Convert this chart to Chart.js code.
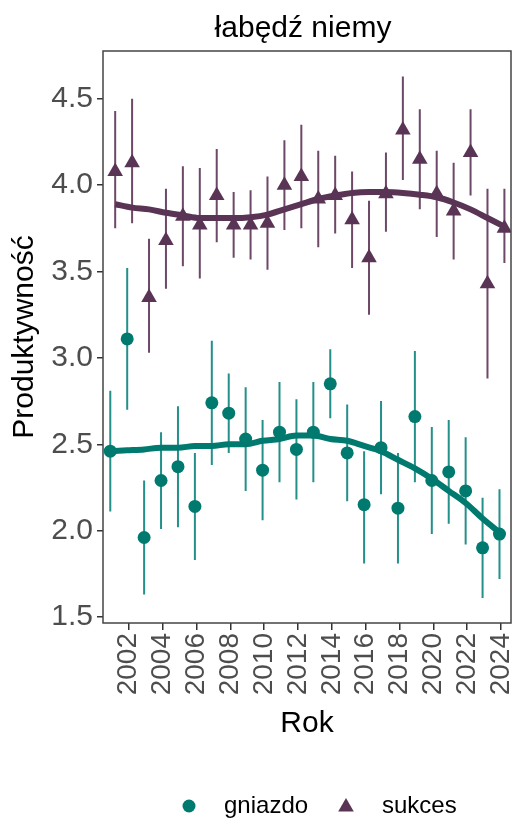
<!DOCTYPE html>
<html lang="pl">

<head>
    <meta charset="UTF-8">
    <title>łabędź niemy</title>
    <script src="https://cdn.jsdelivr.net/npm/chart.js"></script>
    <style>
        html, body { margin: 0; padding: 0; background: #fff; }
        canvas { display: block; }
    </style>
</head>

<body>
    <canvas id="chart" width="527" height="818"></canvas>

    <script>
        // data
        const years = [2001, 2002, 2003, 2004, 2005, 2006, 2007, 2008, 2009, 2010, 2011, 2012,
            2013, 2014, 2015, 2016, 2017, 2018, 2019, 2020, 2021, 2022, 2023, 2024];

        const gniazdo = [2.46, 3.11, 1.96, 2.29, 2.37, 2.14, 2.74, 2.68, 2.53, 2.35, 2.57, 2.47,
            2.57, 2.85, 2.45, 2.15, 2.48, 2.13, 2.66, 2.29, 2.34, 2.23, 1.90, 1.98];
        const gniazdoLo = [2.11, 2.70, 1.63, 2.01, 2.02, 1.83, 2.38, 2.45, 2.23, 2.06, 2.28, 2.18,
            2.28, 2.65, 2.17, 1.81, 2.21, 1.81, 2.28, 1.98, 2.04, 1.92, 1.61, 1.72];
        const gniazdoHi = [2.81, 3.52, 2.29, 2.57, 2.72, 2.45, 3.10, 2.91, 2.83, 2.64, 2.86, 2.76,
            2.86, 3.05, 2.73, 2.46, 2.75, 2.45, 3.04, 2.60, 2.64, 2.54, 2.19, 2.24];
        const gniazdoTrend = [2.46, 2.465, 2.47, 2.48, 2.48, 2.49, 2.49, 2.50, 2.50, 2.52, 2.53, 2.55,
            2.55, 2.53, 2.52, 2.49, 2.46, 2.41, 2.36, 2.30, 2.23, 2.16, 2.07, 1.99];

        const sukces = [4.08, 4.13, 3.35, 3.68, 3.82, 3.77, 3.94, 3.77, 3.77, 3.78, 4.00, 4.05,
            3.92, 3.94, 3.80, 3.58, 3.95, 4.32, 4.15, 3.95, 3.85, 4.19, 3.43, 3.75];
        const sukcesLo = [3.75, 3.78, 3.03, 3.40, 3.53, 3.46, 3.67, 3.58, 3.57, 3.51, 3.74, 3.75,
            3.64, 3.72, 3.52, 3.25, 3.73, 4.03, 3.86, 3.70, 3.57, 3.94, 2.88, 3.55];
        const sukcesHi = [4.43, 4.50, 3.69, 3.98, 4.11, 4.10, 4.21, 3.96, 3.97, 4.05, 4.26, 4.35,
            4.20, 4.17, 4.08, 3.91, 4.19, 4.63, 4.44, 4.20, 4.13, 4.44, 3.98, 3.98];
        const sukcesTrend = [3.89, 3.87, 3.86, 3.84, 3.825, 3.81, 3.81, 3.81, 3.815, 3.83, 3.86, 3.89,
            3.92, 3.94, 3.955, 3.96, 3.96, 3.955, 3.945, 3.93, 3.90, 3.86, 3.81, 3.76];

        const xTicks = [2002, 2004, 2006, 2008, 2010, 2012, 2014, 2016, 2018, 2020, 2022, 2024];
        const yTicks = [1.5, 2.0, 2.5, 3.0, 3.5, 4.0, 4.5];

        const TEAL = '#00796F';
        const TEAL_BAR = '#23908A';
        const PLUM = '#5A3455';
        const PLUM_BAR = '#6D4867';
        const FONT = "'Liberation Sans', Arial, sans-serif";

        // small dodge between the two series
        const DX_G = -0.09;
        const DX_S = 0.2;

        function pts(ys, dx) {
            return years.map((x, i) => ({ x: x + dx, y: ys[i] }));
        }

        function bars(lo, hi, dx) {
            const out = [];
            years.forEach((x, i) => {
                out.push({ x: x + dx, y: lo[i] }, { x: x + dx, y: hi[i] }, { x: x + dx, y: null });
            });
            return out;
        }

        Chart.defaults.font.family = FONT;

        const frame = {
            id: 'frame',
            afterDraw(chart) {
                const { ctx, chartArea: a } = chart;
                ctx.save();
                ctx.strokeStyle = '#444';
                ctx.lineWidth = 1.5;
                ctx.strokeRect(a.left, a.top, a.right - a.left, a.bottom - a.top);

                // title, centred on the panel
                ctx.fillStyle = '#000';
                ctx.font = '30px ' + FONT;
                ctx.textAlign = 'center';
                ctx.textBaseline = 'alphabetic';
                ctx.fillText('łabędź niemy', (a.left + a.right) / 2 - 4, 37);

                // legend
                const ly = 806;
                ctx.font = '24px ' + FONT;
                ctx.textAlign = 'left';
                ctx.textBaseline = 'middle';
                ctx.fillStyle = TEAL;
                Chart.helpers.drawPoint(ctx, { pointStyle: 'circle', radius: 6.5, borderWidth: 0 }, 189, ly);
                ctx.fillStyle = PLUM;
                Chart.helpers.drawPoint(ctx, { pointStyle: 'triangle', radius: 9, borderWidth: 0 }, 346, ly + 1);
                ctx.fillStyle = '#000';
                ctx.fillText('gniazdo', 224, ly);
                ctx.fillText('sukces', 382, ly);
                ctx.restore();
            }
        };

        new Chart(document.getElementById('chart'), {
            type: 'line',
            data: {
                datasets: [
                    {
                        label: 'gniazdo',
                        type: 'scatter',
                        data: pts(gniazdo, DX_G),
                        backgroundColor: TEAL,
                        borderWidth: 0,
                        pointStyle: 'circle',
                        pointRadius: 6.5,
                        order: 0
                    },
                    {
                        label: 'sukces',
                        type: 'scatter',
                        data: pts(sukces, DX_S),
                        backgroundColor: PLUM,
                        borderWidth: 0,
                        pointStyle: 'triangle',
                        pointRadius: 9,
                        order: 0
                    },
                    {
                        label: 'gniazdo trend',
                        data: pts(gniazdoTrend, DX_G),
                        borderColor: TEAL,
                        borderWidth: 6,
                        pointRadius: 0,
                        cubicInterpolationMode: 'monotone',
                        order: 1
                    },
                    {
                        label: 'sukces trend',
                        data: pts(sukcesTrend, DX_S),
                        borderColor: PLUM,
                        borderWidth: 6,
                        pointRadius: 0,
                        cubicInterpolationMode: 'monotone',
                        order: 1
                    },
                    {
                        label: 'gniazdo bars',
                        data: bars(gniazdoLo, gniazdoHi, DX_G),
                        borderColor: TEAL_BAR,
                        borderWidth: 2,
                        pointRadius: 0,
                        spanGaps: false,
                        order: 2
                    },
                    {
                        label: 'sukces bars',
                        data: bars(sukcesLo, sukcesHi, DX_S),
                        borderColor: PLUM_BAR,
                        borderWidth: 2,
                        pointRadius: 0,
                        spanGaps: false,
                        order: 2
                    }
                ]
            },
            options: {
                responsive: false,
                animation: false,
                devicePixelRatio: 1,
                events: [],
                layout: { padding: { top: 51, right: 16, bottom: 76, left: 0 } },
                plugins: {
                    legend: { display: false },
                    tooltip: { enabled: false }
                },
                scales: {
                    x: {
                        type: 'linear',
                        min: 2000.48,
                        max: 2024.59,
                        afterBuildTicks: s => { s.ticks = xTicks.map(v => ({ value: v })); },
                        afterFit: s => { s.height = 119; s.paddingLeft = 0; s.paddingRight = 0; },
                        grid: { drawOnChartArea: false, drawTicks: true, tickLength: 7, color: '#333', lineWidth: 1.5 },
                        border: { display: false },
                        ticks: {
                            autoSkip: false,
                            minRotation: 90,
                            maxRotation: 90,
                            padding: 3,
                            color: '#4D4D4D',
                            font: { size: 28 },
                            callback: v => String(v)
                        },
                        title: {
                            display: true,
                            text: 'Rok',
                            color: '#000',
                            font: { size: 30 },
                            padding: { top: 0, bottom: 0 }
                        }
                    },
                    y: {
                        min: 1.465,
                        max: 4.777,
                        afterBuildTicks: s => { s.ticks = yTicks.map(v => ({ value: v })); },
                        afterFit: s => { s.width = 103; },
                        grid: { drawOnChartArea: false, drawTicks: true, tickLength: 6, color: '#333', lineWidth: 1.5 },
                        border: { display: false },
                        ticks: {
                            padding: 4,
                            color: '#4D4D4D',
                            font: { size: 30 },
                            callback: v => v.toFixed(1)
                        },
                        title: {
                            display: true,
                            text: 'Produktywność',
                            color: '#000',
                            font: { size: 30 },
                            padding: { top: 7, bottom: 0 }
                        }
                    }
                }
            },
            plugins: [frame]
        });
    </script>
</body>

</html>
